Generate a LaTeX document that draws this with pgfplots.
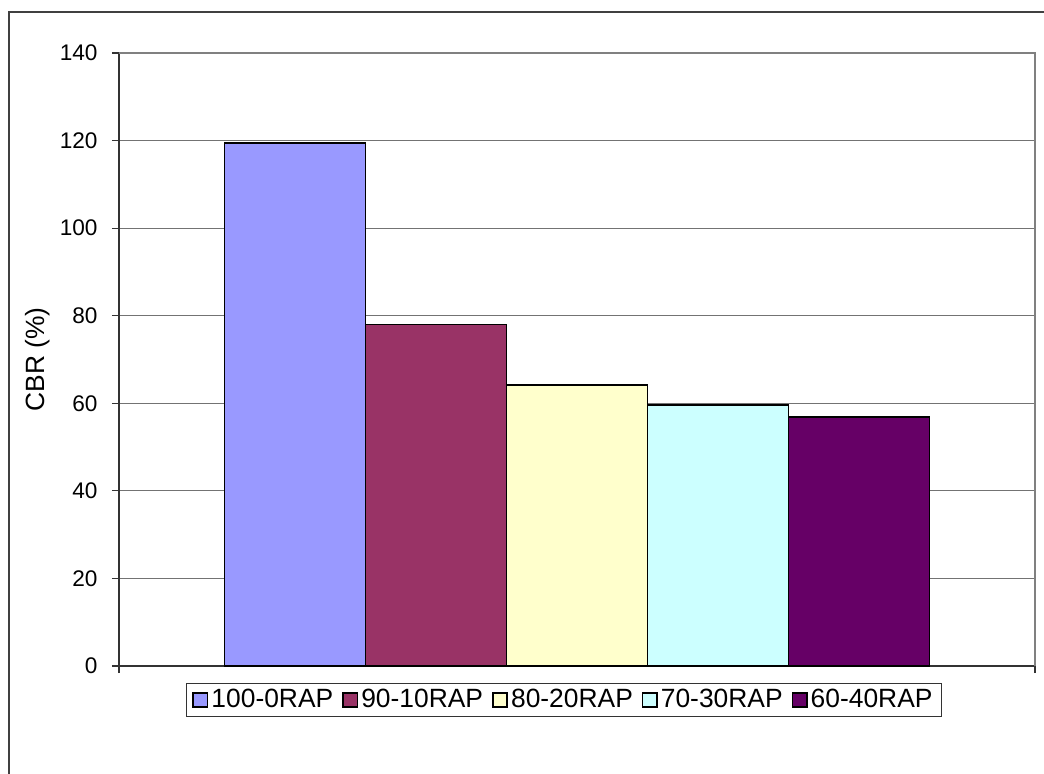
\documentclass[border=0pt]{standalone}
\usepackage{pgfplots}
\pgfplotsset{compat=1.18}
\usepackage{fontspec}
\setmainfont{Liberation Sans}
\definecolor{cA}{HTML}{9999FF}
\definecolor{cB}{HTML}{993366}
\definecolor{cC}{HTML}{FFFFCC}
\definecolor{cD}{HTML}{CCFFFF}
\definecolor{cE}{HTML}{660066}
\begin{document}
\begin{tikzpicture}
\begin{axis}[
  at={(0,0)}, anchor=south west,
  scale only axis, width=458pt, height=306.5pt,
  xmin=-3.248, xmax=3.248, ymin=0, ymax=140,
  axis lines=left, axis line style={-, black!80, line width=0.6pt},
  ytick={0,20,...,140},
  xtick={-3.248,3.248}, xticklabels={},
  tick align=outside, major tick length=3.5pt,
  tick style={black!80, line width=0.6pt},
  ymajorgrids, grid style={black!55, line width=0.5pt},
  /pgf/number format/assume math mode=true,
  yticklabel style={font=\fontsize{11.3}{13}\selectfont, xshift=-3.7pt},
  ylabel={CBR (\%)},
  y label style={at={(axis description cs:-0.0884,0.5)}, anchor=center, rotate=0, font=\fontsize{13.2}{15}\selectfont},
  legend columns=5,
  legend style={at={(axis description cs:0.4858,-0.0555)}, anchor=center,
    draw=black!80, line width=0.5pt, font=\fontsize{13.2}{15}\selectfont,
    inner xsep=3pt, inner ysep=1pt,
    /tikz/every odd column/.append style={column sep=0pt},
    /tikz/every even column/.append style={column sep=3pt},
    nodes={inner xsep=1.5pt}},
  legend image code/.code={\draw[#1, line width=0.8pt] (0pt,-3.6pt) rectangle (7.2pt,3.6pt);},
  after end axis/.code={\draw[black!50, line width=0.8pt] (rel axis cs:1,0) -- (rel axis cs:1,1) -- (rel axis cs:0,1);},
]
\addplot[ybar, bar width=1, bar shift=0pt, fill=cA, draw=black, line width=0.9pt] coordinates {(-2,119.4)};
\addlegendentry{100-0RAP}
\addplot[ybar, bar width=1, bar shift=0pt, fill=cB, draw=black, line width=0.9pt] coordinates {(-1,78.0)};
\addlegendentry{90-10RAP}
\addplot[ybar, bar width=1, bar shift=0pt, fill=cC, draw=black, line width=0.9pt] coordinates {(0,64.2)};
\addlegendentry{80-20RAP}
\addplot[ybar, bar width=1, bar shift=0pt, fill=cD, draw=black, line width=0.9pt] coordinates {(1,59.6)};
\addlegendentry{70-30RAP}
\addplot[ybar, bar width=1, bar shift=0pt, fill=cE, draw=black, line width=0.9pt] coordinates {(2,56.8)};
\addlegendentry{60-40RAP}
\end{axis}
\draw[black!75, line width=0.6pt] (-55pt,-60pt) -- (-55pt,327pt) -- (470pt,327pt);
\pgfresetboundingbox
\path[use as bounding box] (-59.5pt,-53.5pt) rectangle (462.5pt,333pt);
\end{tikzpicture}
\end{document}
